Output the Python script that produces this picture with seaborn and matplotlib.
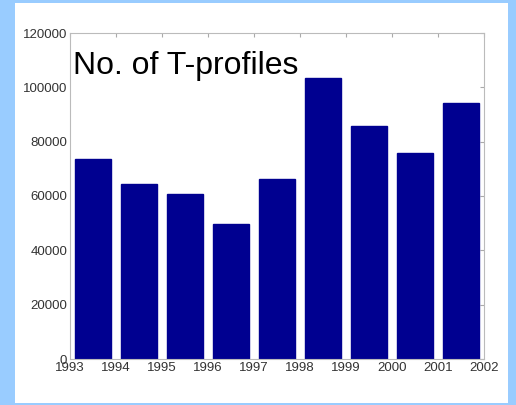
import numpy as np
import pandas as pd
import matplotlib
matplotlib.use('Agg')
import matplotlib.pyplot as plt
import seaborn as sns
from matplotlib.patches import Rectangle

# yearly counts of temperature profiles
years = [1993, 1994, 1995, 1996, 1997, 1998, 1999, 2000, 2001]
profiles = [73700, 64500, 60600, 49700, 66100, 103300, 85700, 75900, 94300]
tick_years = [1993, 1994, 1995, 1996, 1997, 1998, 1999, 2000, 2001, 2002]
y_ticks = [0, 20000, 40000, 60000, 80000, 100000, 120000]

sns.set_style('white')
plt.rcParams['font.family'] = ['Liberation Sans', 'DejaVu Sans']

fig = plt.figure(figsize=(5.16, 4.05), dpi=100)
fig.patch.set_facecolor('#99ccff')
fig.patches.append(Rectangle((15 / 516, 1 - 403 / 405), 493 / 516, 400 / 405,
                             transform=fig.transFigure, facecolor='white',
                             edgecolor='none', zorder=-5))

ax = fig.add_axes([70 / 516, 1 - 359 / 405, 414 / 516, 326 / 405])
df = pd.DataFrame({'year': [str(y) for y in years], 'n': profiles})
sns.barplot(data=df, x='year', y='n', color='#000090', saturation=1,
            width=0.8, ax=ax, edgecolor='#000090')

ax.set_xlim(-0.5, len(years) - 0.5)
ax.set_ylim(0, 120000)
ax.set_xticks(np.arange(len(tick_years)) - 0.5)
ax.set_xticklabels([str(y) for y in tick_years])
ax.set_yticks(y_ticks)
ax.set_yticklabels([str(v) for v in y_ticks])
ax.set_xlabel('')
ax.set_ylabel('')
ax.tick_params(direction='in', length=3, labelsize=9.5, colors='#aaaaaa',
               labelcolor='#333333', top=True, right=True, pad=2)
for s in ax.spines.values():
    s.set_color('#bbbbbb')
    s.set_linewidth(0.8)

ax.text(0.008, 0.874, 'No. of T-profiles', transform=ax.transAxes,
        fontsize=23, color='black', va='baseline', ha='left')

fig.savefig('out.png', dpi=100, facecolor=fig.get_facecolor())
